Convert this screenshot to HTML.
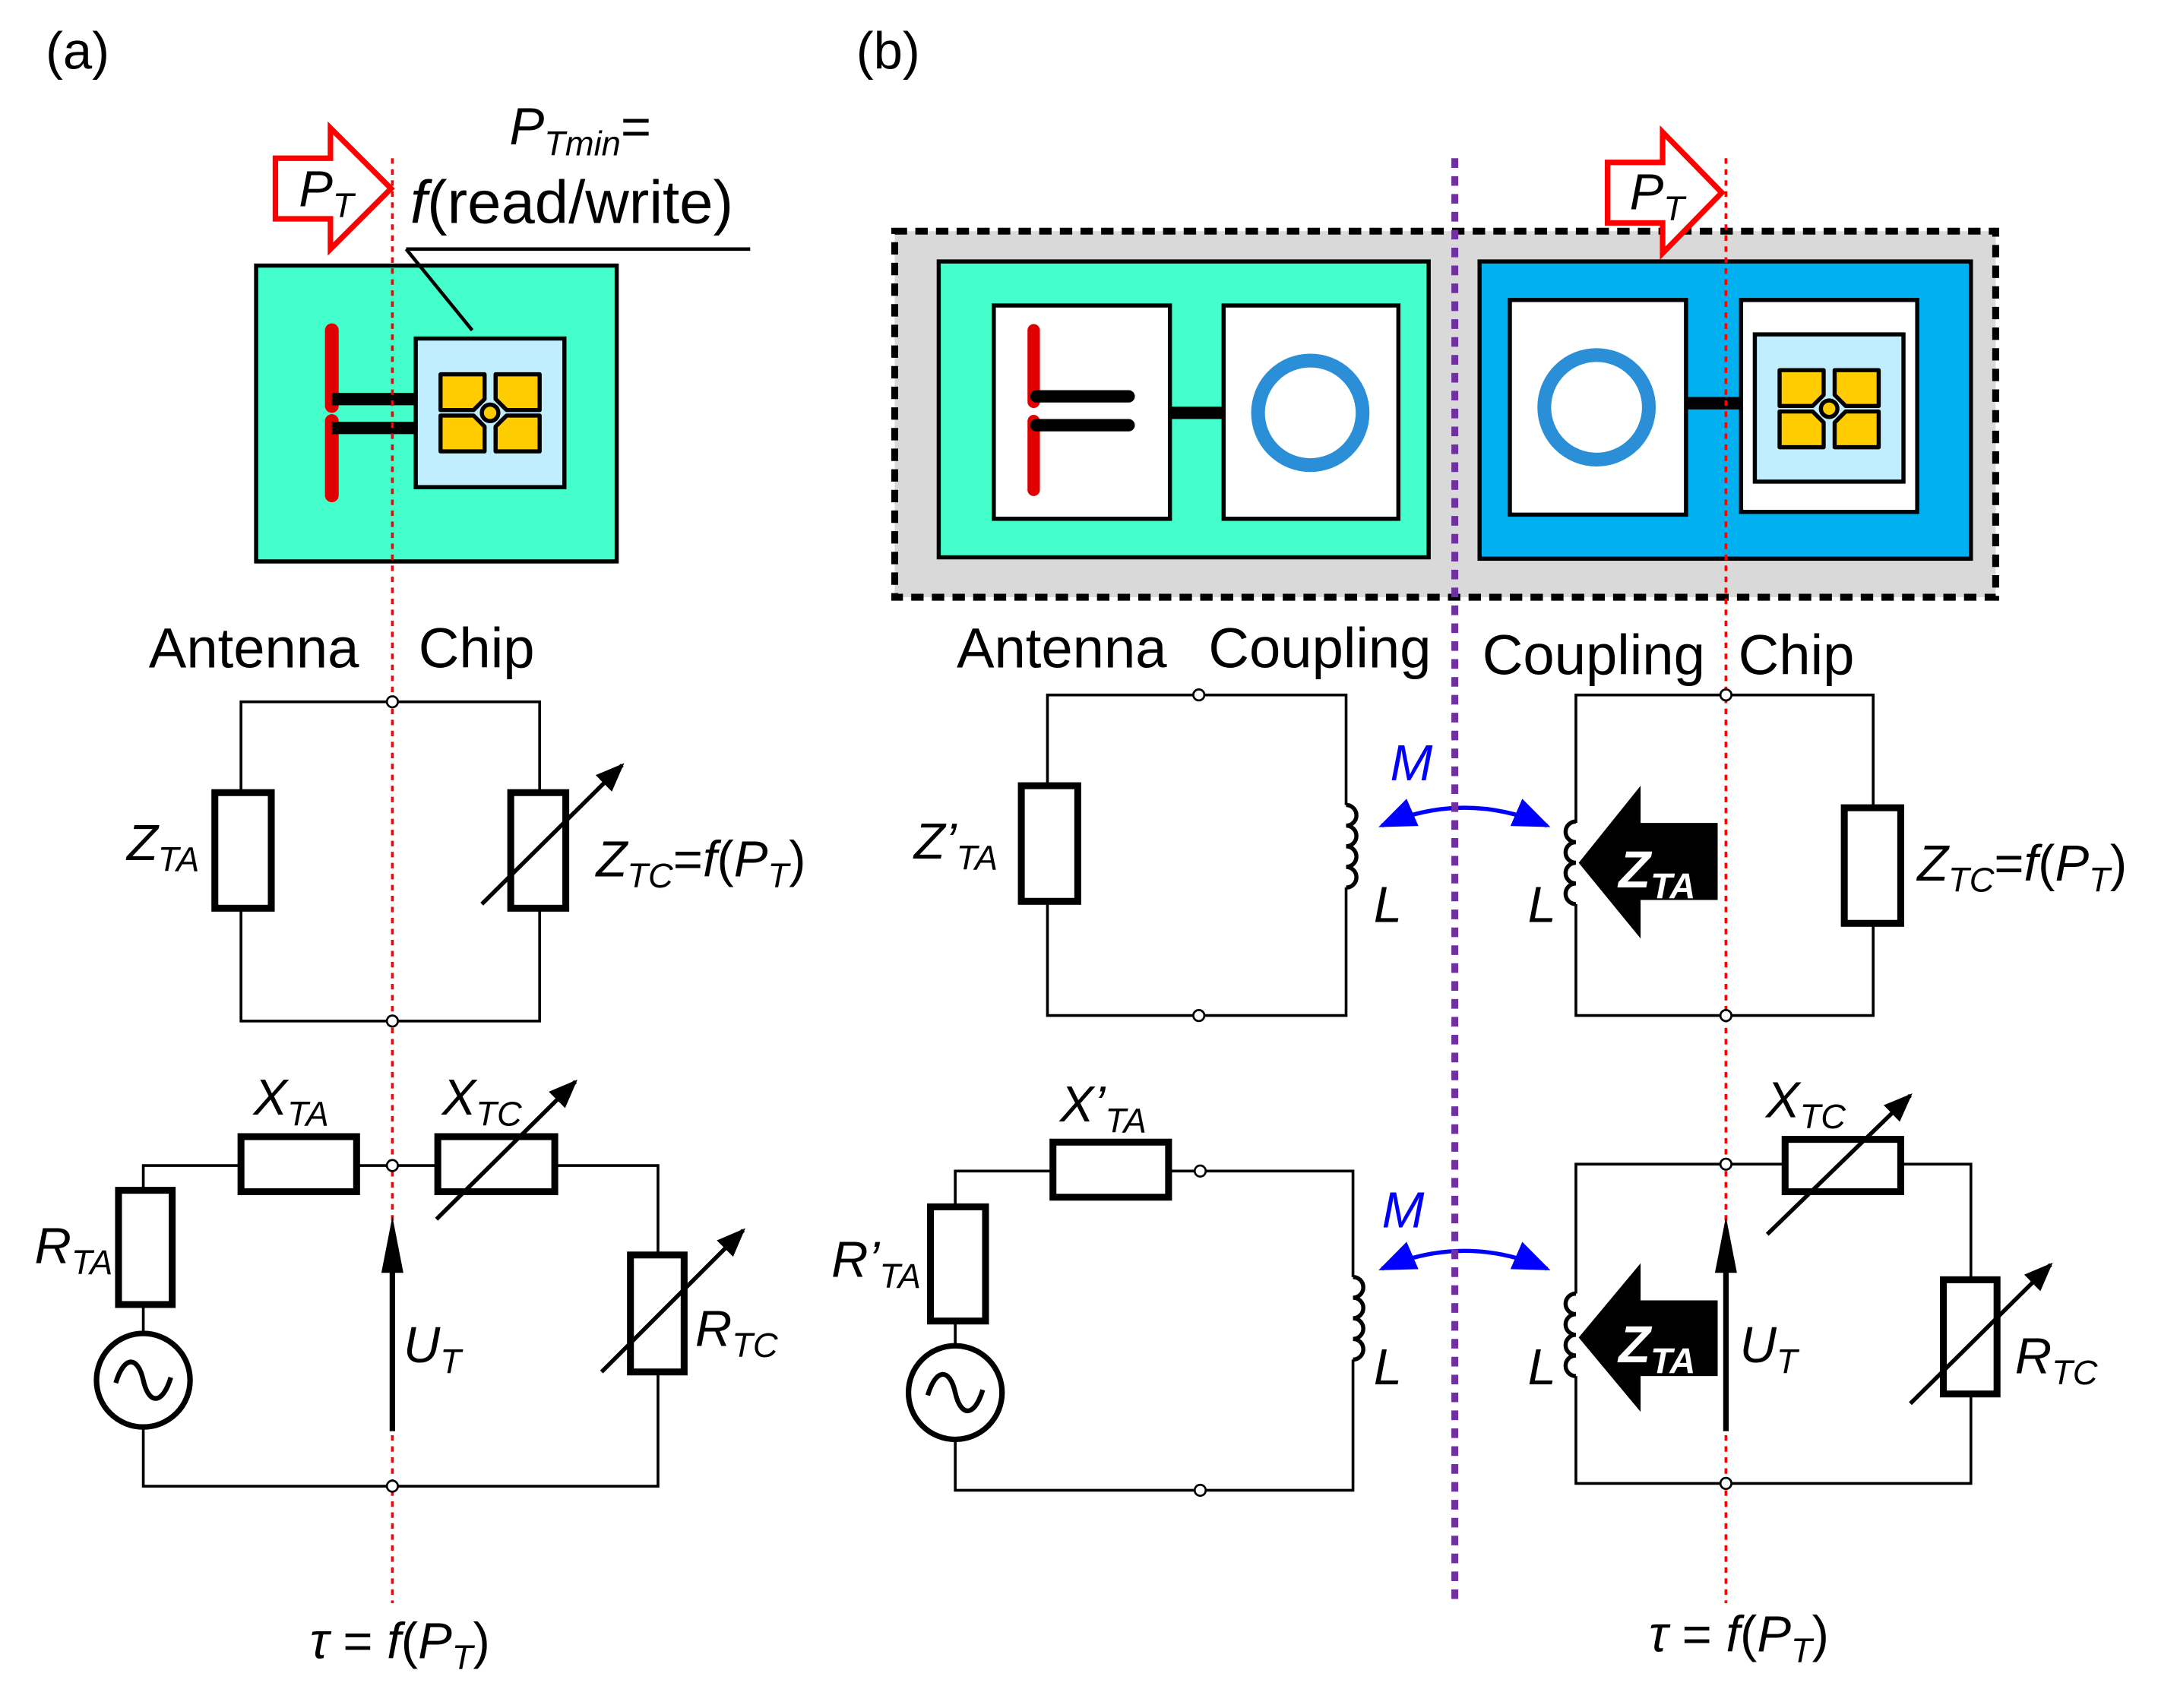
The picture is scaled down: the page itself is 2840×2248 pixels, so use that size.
<!DOCTYPE html>
<html><head><meta charset="utf-8"><style>
html,body{margin:0;padding:0;background:#fff}
svg{display:block}
text{font-family:"Liberation Sans","DejaVu Sans",sans-serif}
.it{font-style:italic}
</style></head><body>
<svg width="2840" height="2248" viewBox="0 0 1560 1235" xmlns="http://www.w3.org/2000/svg">
<defs>
<g id="pads">
<path d="M-36,-28 H-4 V-10 L-12,-2 H-36 Z" fill="#ffcc00" stroke="#000" stroke-width="3" stroke-linejoin="round"/>
<path d="M36,-28 H4 V-10 L12,-2 H36 Z" fill="#ffcc00" stroke="#000" stroke-width="3" stroke-linejoin="round"/>
<path d="M-36,28 H-4 V10 L-12,2 H-36 Z" fill="#ffcc00" stroke="#000" stroke-width="3" stroke-linejoin="round"/>
<path d="M36,28 H4 V10 L12,2 H36 Z" fill="#ffcc00" stroke="#000" stroke-width="3" stroke-linejoin="round"/>
<circle cx="0" cy="0" r="6" fill="#ffcc00" stroke="#000" stroke-width="3"/>
</g>
<marker id="ah" viewBox="0 0 10 10" refX="9" refY="5" markerWidth="7" markerHeight="7" orient="auto" markerUnits="strokeWidth"><path d="M0,1 L10,5 L0,9 Z" fill="#000"/></marker>
<marker id="ahb" viewBox="0 0 10 10" refX="9" refY="5" markerWidth="9" markerHeight="9" orient="auto" markerUnits="strokeWidth"><path d="M0,1 L10,5 L0,9 Z" fill="#0000ff"/></marker>
<marker id="ahbs" viewBox="0 0 10 10" refX="1" refY="5" markerWidth="9" markerHeight="9" orient="auto" markerUnits="strokeWidth"><path d="M10,1 L0,5 L10,9 Z" fill="#0000ff"/></marker>
</defs>
<g transform="scale(0.995)">
<text x="33" y="50" font-size="38">(a)</text>
<text x="622" y="50" font-size="38">(b)</text>

<!-- ===== (a) top ===== -->
<path d="M200,115 H240 V93 L284,137 L240,181 V159 H200 Z" fill="#fff" stroke="#ff0000" stroke-width="4"/>
<text x="217" y="150" font-size="37" class="it">P<tspan font-size="25" dy="8">T</tspan></text>
<text x="370" y="105" font-size="38" class="it">P<tspan font-size="25" dy="8">Tmin</tspan><tspan dy="-8" font-style="normal">=</tspan></text>
<text x="298" y="162" font-size="44"><tspan class="it">f</tspan>(read/write)</text>
<rect x="186" y="193" width="262" height="215" fill="#44ffcc" stroke="#000" stroke-width="3"/>
<line x1="295" y1="181" x2="545" y2="181" stroke="#000" stroke-width="2.5"/>
<line x1="295" y1="181" x2="343" y2="240" stroke="#000" stroke-width="2.5"/>
<rect x="302" y="246" width="108" height="108" fill="#c0eeff" stroke="#000" stroke-width="3"/>
<use href="#pads" x="356" y="300"/>
<line x1="241" y1="240" x2="241" y2="295" stroke="#e00000" stroke-width="10" stroke-linecap="round"/>
<line x1="241" y1="306" x2="241" y2="360" stroke="#e00000" stroke-width="10" stroke-linecap="round"/>
<line x1="241" y1="290" x2="302" y2="290" stroke="#000" stroke-width="9"/>
<line x1="241" y1="311" x2="302" y2="311" stroke="#000" stroke-width="9"/>
<text x="108" y="485" font-size="41">Antenna</text>
<text x="304" y="485" font-size="41">Chip</text>

<!-- (a) circuit 1 -->
<rect x="175" y="510" width="217" height="232" fill="none" stroke="#000" stroke-width="2"/>
<rect x="156" y="576" width="41" height="84" fill="#fff" stroke="#000" stroke-width="5"/>
<rect x="371" y="576" width="40" height="84" fill="#fff" stroke="#000" stroke-width="5"/>
<line x1="350" y1="657" x2="452" y2="556" stroke="#000" stroke-width="3" marker-end="url(#ah)"/>
<text x="92" y="625" font-size="37" class="it">Z<tspan font-size="25" dy="8">TA</tspan></text>
<text x="433" y="637" font-size="37" class="it">Z<tspan font-size="25" dy="8">TC</tspan><tspan dy="-8" font-style="normal">=</tspan>f<tspan font-style="normal">(</tspan>P<tspan font-size="25" dy="8">T</tspan><tspan dy="-8" font-style="normal">)</tspan></text>

<!-- (a) circuit 2 -->
<path d="M104,865 V847 H478 V912 M478,997 V1080 H104 V1037 M104,948 V969" fill="none" stroke="#000" stroke-width="2"/>
<rect x="86" y="865" width="39" height="83" fill="#fff" stroke="#000" stroke-width="5"/>
<circle cx="104" cy="1003" r="34" fill="#fff" stroke="#000" stroke-width="4"/>
<path d="M84,1005 C90,985 100,985 104,1003 C108,1021 118,1021 124,1001" fill="none" stroke="#000" stroke-width="3.5"/>
<rect x="175" y="826" width="84" height="40" fill="#fff" stroke="#000" stroke-width="5"/>
<rect x="318" y="826" width="85" height="40" fill="#fff" stroke="#000" stroke-width="5"/>
<line x1="317" y1="886" x2="418" y2="786" stroke="#000" stroke-width="3" marker-end="url(#ah)"/>
<rect x="458" y="912" width="39" height="85" fill="#fff" stroke="#000" stroke-width="5"/>
<line x1="437" y1="997" x2="540" y2="894" stroke="#000" stroke-width="3" marker-end="url(#ah)"/>
<text x="184" y="810" font-size="37" class="it">X<tspan font-size="25" dy="8">TA</tspan></text>
<text x="321" y="810" font-size="37" class="it">X<tspan font-size="25" dy="8">TC</tspan></text>
<text x="25" y="918" font-size="37" class="it">R<tspan font-size="25" dy="8">TA</tspan></text>
<text x="293" y="990" font-size="37" class="it">U<tspan font-size="25" dy="8">T</tspan></text>
<text x="505" y="978" font-size="37" class="it">R<tspan font-size="25" dy="8">TC</tspan></text>
<text x="225" y="1205" font-size="37" class="it">τ <tspan font-style="normal"> = </tspan>f<tspan font-style="normal">(</tspan>P<tspan font-size="25" dy="8">T</tspan><tspan dy="-8" font-style="normal">)</tspan></text>

<line x1="285" y1="115" x2="285" y2="1165" stroke="#ff0000" stroke-width="2" stroke-dasharray="4,4"/>
<line x1="285" y1="1040" x2="285" y2="915" stroke="#000" stroke-width="4"/>
<path d="M285,884 L277,925 L293,925 Z" fill="#000"/>
<g fill="#fff" stroke="#000" stroke-width="1.5">
<circle cx="285" cy="510" r="4"/><circle cx="285" cy="742" r="4"/><circle cx="285" cy="847" r="4"/><circle cx="285" cy="1080" r="4"/>
</g>

<!-- ===== (b) top ===== -->
<rect x="650" y="168" width="800" height="266" fill="#d9d9d9" stroke="#000" stroke-width="5" stroke-dasharray="9,6"/>
<rect x="682" y="190" width="356" height="215" fill="#44ffcc" stroke="#000" stroke-width="3"/>
<rect x="722" y="222" width="128" height="155" fill="#fff" stroke="#000" stroke-width="3"/>
<rect x="889" y="222" width="127" height="155" fill="#fff" stroke="#000" stroke-width="3"/>
<line x1="751" y1="240" x2="751" y2="292" stroke="#e00000" stroke-width="9" stroke-linecap="round"/>
<line x1="751" y1="306" x2="751" y2="356" stroke="#e00000" stroke-width="9" stroke-linecap="round"/>
<line x1="753" y1="288" x2="820" y2="288" stroke="#000" stroke-width="9" stroke-linecap="round"/>
<line x1="753" y1="309" x2="820" y2="309" stroke="#000" stroke-width="9" stroke-linecap="round"/>
<line x1="850" y1="300" x2="889" y2="300" stroke="#000" stroke-width="9"/>
<circle cx="952" cy="300" r="38" fill="none" stroke="#2b8fd8" stroke-width="10"/>
<rect x="1075" y="190" width="357" height="216" fill="#00b0f0" stroke="#000" stroke-width="3"/>
<rect x="1097" y="218" width="128" height="156" fill="#fff" stroke="#000" stroke-width="3"/>
<circle cx="1160" cy="296" r="38" fill="none" stroke="#2b8fd8" stroke-width="10"/>
<line x1="1225" y1="293" x2="1265" y2="293" stroke="#000" stroke-width="9"/>
<rect x="1265" y="218" width="128" height="154" fill="#fff" stroke="#000" stroke-width="3"/>
<rect x="1275" y="243" width="108" height="107" fill="#c0eeff" stroke="#000" stroke-width="3"/>
<use href="#pads" x="1329" y="297"/>
<path d="M1168,118 H1208 V96 L1251,140 L1208,184 V162 H1168 Z" fill="#fff" stroke="#ff0000" stroke-width="4"/>
<text x="1184" y="152" font-size="37" class="it">P<tspan font-size="25" dy="8">T</tspan></text>
<text x="695" y="485" font-size="41">Antenna</text>
<text x="878" y="485" font-size="41">Coupling</text>
<text x="1077" y="490" font-size="41">Coupling</text>
<text x="1263" y="490" font-size="41">Chip</text>

<!-- (b) circuit 1 left -->
<path d="M761,571 V505 H978 V585 M978,645 V738 H761 V655" fill="none" stroke="#000" stroke-width="2"/>
<rect x="742" y="571" width="41" height="84" fill="#fff" stroke="#000" stroke-width="5"/>
<path d="M978,585 a7.5,7.5 0 0 1 0,15 a7.5,7.5 0 0 1 0,15 a7.5,7.5 0 0 1 0,15 a7.5,7.5 0 0 1 0,15" fill="none" stroke="#000" stroke-width="3"/>
<text x="664" y="624" font-size="37" class="it">Z’<tspan font-size="25" dy="8">TA</tspan></text>
<text x="998" y="670" font-size="37" class="it">L</text>
<text x="1010" y="567" font-size="37" class="it" fill="#0000ff">M</text>
<path d="M1004,600 Q1064,574 1124,600" fill="none" stroke="#0000ff" stroke-width="3" marker-start="url(#ahbs)" marker-end="url(#ahb)"/>
<!-- (b) circuit 1 right -->
<path d="M1145,598 V505 H1361 V587 M1361,671 V738 H1145 V657" fill="none" stroke="#000" stroke-width="2"/>
<path d="M1145,597 a7.5,7.5 0 0 0 0,15 a7.5,7.5 0 0 0 0,15 a7.5,7.5 0 0 0 0,15 a7.5,7.5 0 0 0 0,15" fill="none" stroke="#000" stroke-width="3"/>
<rect x="1340" y="587" width="41" height="84" fill="#fff" stroke="#000" stroke-width="5"/>
<path d="M1147,627 L1192,571 V598 H1248 V654 H1192 V682 Z" fill="#000"/>
<text x="1176" y="645" font-size="38" font-weight="bold" fill="#fff" class="it">Z<tspan font-size="26" dy="8">TA</tspan></text>
<text x="1110" y="670" font-size="37" class="it">L</text>
<text x="1393" y="640" font-size="37" class="it">Z<tspan font-size="25" dy="8">TC</tspan><tspan dy="-8" font-style="normal">=</tspan>f<tspan font-style="normal">(</tspan>P<tspan font-size="25" dy="8">T</tspan><tspan dy="-8" font-style="normal">)</tspan></text>

<!-- (b) circuit 2 left -->
<path d="M694,877 V851 H983 V928 M983,988 V1083 H694 V1046 M694,960 V978" fill="none" stroke="#000" stroke-width="2"/>
<rect x="676" y="877" width="40" height="83" fill="#fff" stroke="#000" stroke-width="5"/>
<circle cx="694" cy="1012" r="34" fill="#fff" stroke="#000" stroke-width="4"/>
<path d="M674,1014 C680,994 690,994 694,1012 C698,1030 708,1030 714,1010" fill="none" stroke="#000" stroke-width="3.5"/>
<rect x="765" y="830" width="84" height="40" fill="#fff" stroke="#000" stroke-width="5"/>
<path d="M983,928 a7.5,7.5 0 0 1 0,15 a7.5,7.5 0 0 1 0,15 a7.5,7.5 0 0 1 0,15 a7.5,7.5 0 0 1 0,15" fill="none" stroke="#000" stroke-width="3"/>
<text x="604" y="928" font-size="37" class="it">R’<tspan font-size="25" dy="8">TA</tspan></text>
<text x="770" y="815" font-size="37" class="it">X’<tspan font-size="25" dy="8">TA</tspan></text>
<text x="998" y="1006" font-size="37" class="it">L</text>
<text x="1004" y="892" font-size="37" class="it" fill="#0000ff">M</text>
<path d="M1004,922 Q1064,896 1124,922" fill="none" stroke="#0000ff" stroke-width="3" marker-start="url(#ahbs)" marker-end="url(#ahb)"/>
<!-- (b) circuit 2 right -->
<path d="M1145,940 V846 H1432 V930 M1432,1013 V1078 H1145 V1000" fill="none" stroke="#000" stroke-width="2"/>
<path d="M1145,940 a7.5,7.5 0 0 0 0,15 a7.5,7.5 0 0 0 0,15 a7.5,7.5 0 0 0 0,15 a7.5,7.5 0 0 0 0,15" fill="none" stroke="#000" stroke-width="3"/>
<rect x="1297" y="828" width="84" height="38" fill="#fff" stroke="#000" stroke-width="5"/>
<line x1="1284" y1="897" x2="1388" y2="796" stroke="#000" stroke-width="3" marker-end="url(#ah)"/>
<rect x="1412" y="930" width="39" height="83" fill="#fff" stroke="#000" stroke-width="5"/>
<line x1="1388" y1="1020" x2="1490" y2="919" stroke="#000" stroke-width="3" marker-end="url(#ah)"/>
<path d="M1147,972 L1192,918 V945 H1248 V1000 H1192 V1026 Z" fill="#000"/>
<text x="1176" y="990" font-size="38" font-weight="bold" fill="#fff" class="it">Z<tspan font-size="26" dy="8">TA</tspan></text>
<text x="1110" y="1006" font-size="37" class="it">L</text>
<text x="1264" y="990" font-size="37" class="it">U<tspan font-size="25" dy="8">T</tspan></text>
<text x="1283" y="812" font-size="37" class="it">X<tspan font-size="25" dy="8">TC</tspan></text>
<text x="1464" y="998" font-size="37" class="it">R<tspan font-size="25" dy="8">TC</tspan></text>
<text x="1198" y="1200" font-size="37" class="it">τ <tspan font-style="normal"> = </tspan>f<tspan font-style="normal">(</tspan>P<tspan font-size="25" dy="8">T</tspan><tspan dy="-8" font-style="normal">)</tspan></text>

<line x1="1254" y1="115" x2="1254" y2="1165" stroke="#ff0000" stroke-width="2" stroke-dasharray="4,4"/>
<line x1="1254" y1="1040" x2="1254" y2="915" stroke="#000" stroke-width="4"/>
<path d="M1254,884 L1246,925 L1262,925 Z" fill="#000"/>
<line x1="1057" y1="115" x2="1057" y2="1162" stroke="#7030a0" stroke-width="5" stroke-dasharray="7,6"/>
<g fill="#fff" stroke="#000" stroke-width="1.5">
<circle cx="871" cy="505" r="4"/><circle cx="871" cy="738" r="4"/><circle cx="872" cy="851" r="4"/><circle cx="872" cy="1083" r="4"/>
<circle cx="1254" cy="505" r="4"/><circle cx="1254" cy="738" r="4"/><circle cx="1254" cy="846" r="4"/><circle cx="1254" cy="1078" r="4"/>
</g>
</g>
</svg>
</body></html>
